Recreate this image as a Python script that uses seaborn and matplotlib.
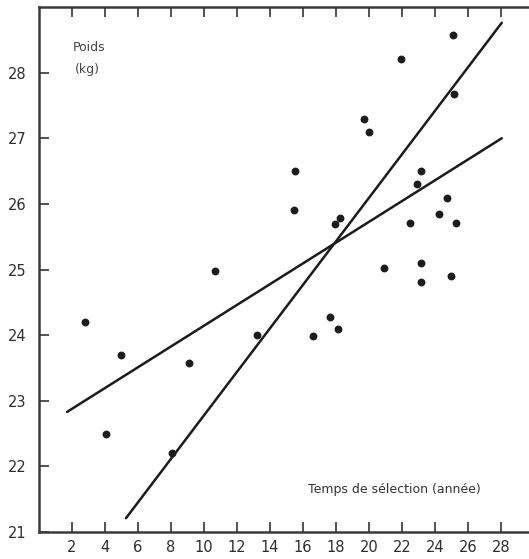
import matplotlib
matplotlib.use("Agg")
import matplotlib.pyplot as plt
import seaborn as sns
import pandas as pd

# Selection time (years) and mean weight (kg)
temps = [2.8, 4.05, 5.0, 8.05, 9.1, 10.65, 13.2, 15.5, 15.45, 16.6, 17.65, 18.1,
         17.95, 18.25, 19.7, 20.0, 20.9, 21.95, 22.5, 22.9, 23.15, 23.15, 23.15,
         24.25, 24.7, 24.95, 25.1, 25.15, 25.3]
poids = [24.2, 22.5, 23.7, 22.2, 23.58, 24.98, 24.0, 26.5, 25.9, 23.99, 24.28, 24.09,
         25.69, 25.79, 27.3, 27.1, 25.02, 28.21, 25.71, 26.3, 26.5, 25.1, 24.81,
         25.85, 26.09, 24.9, 28.58, 27.68, 25.71]

# Endpoints of the two fitted lines
droite_a_x = [1.7, 28.05]
droite_a_y = [22.83, 27.0]
droite_b_x = [5.27, 28.05]
droite_b_y = [21.21, 28.76]

xticks = [2, 4, 6, 8, 10, 12, 14, 16, 18, 20, 22, 24, 26, 28]
yticks = [21, 22, 23, 24, 25, 26, 27, 28]

sns.set_theme(style="white")
plt.rcParams["font.family"] = ["DejaVu Sans"]

ink = "#1c1c1c"
fig = plt.figure(figsize=(5.29, 5.59), dpi=100)
ax = fig.add_axes([39 / 529, 27 / 559, 1 - 39 / 529, 525 / 559])

pts = pd.DataFrame({"temps": temps, "poids": poids})
sns.scatterplot(data=pts, x="temps", y="poids", ax=ax, color=ink, s=32,
                edgecolor=ink, linewidth=0, zorder=3)

lignes = pd.DataFrame({
    "x": droite_a_x + droite_b_x,
    "y": droite_a_y + droite_b_y,
    "droite": ["a", "a", "b", "b"],
})
sns.lineplot(data=lignes, x="x", y="y", units="droite", estimator=None,
             color=ink, linewidth=1.8, ax=ax, legend=False, zorder=2)

ax.set_xlim(0, 29.7)
ax.set_ylim(21, 29.0)
ax.set_xticks(xticks)
ax.set_yticks(yticks)
ax.set_xlabel("")
ax.set_ylabel("")

ax.tick_params(axis="both", direction="in", length=7, width=1.2, color="#333333",
               labelcolor="#2e2e2e", labelsize=10.5)
ax.tick_params(axis="x", top=True, bottom=True, labeltop=False, pad=6)
ax.tick_params(axis="y", left=True, pad=9)
ax.set_xticklabels([str(t) for t in xticks])
ax.set_yticklabels([str(t) for t in yticks])

for side in ("left", "bottom", "top"):
    ax.spines[side].set_visible(True)
    ax.spines[side].set_color("#3a3a3a")
    ax.spines[side].set_linewidth(1.8)
ax.spines["right"].set_visible(False)

ax.text(2.05, 28.39, "Poids", fontsize=9, color="#444444",
        va="center", ha="left")
ax.text(2.2, 28.04, "(kg)", fontsize=9, color="#444444",
        va="center", ha="left")
ax.text(16.3, 21.65, "Temps de sélection (année)", fontsize=9,
        color="#333333", va="center", ha="left")

fig.savefig("out.png", dpi=100)
